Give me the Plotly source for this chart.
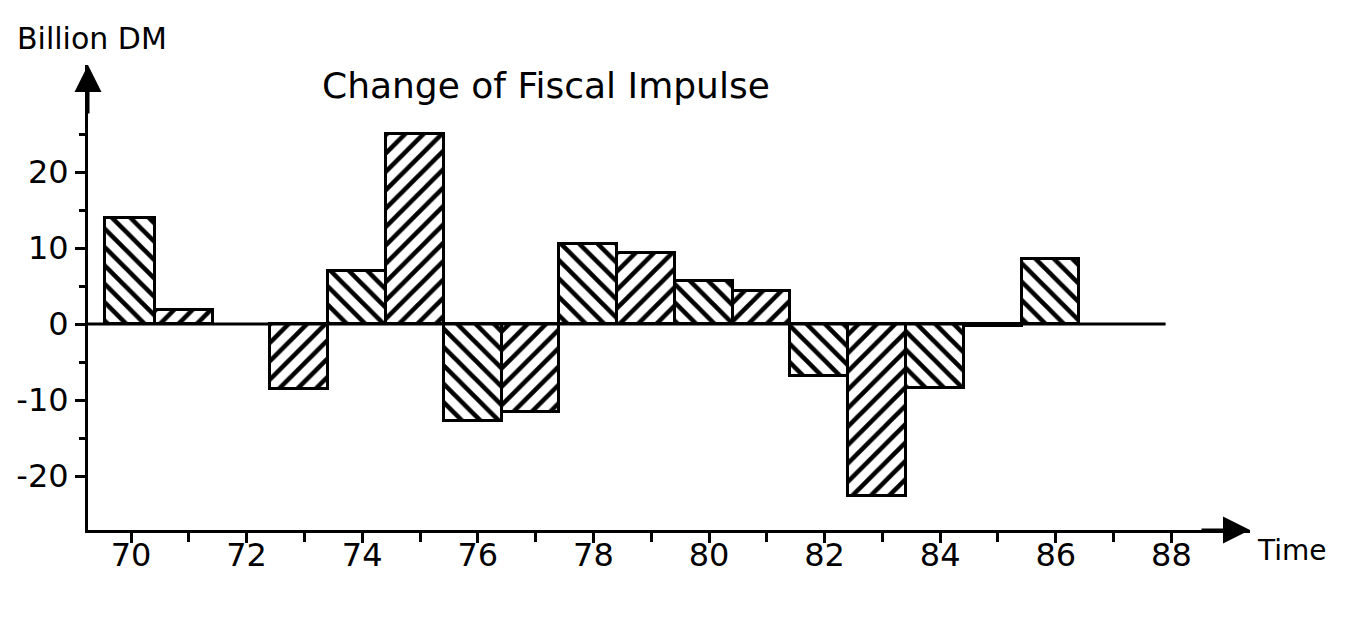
import plotly.graph_objects as go

years = [70, 71, 73, 74, 75, 76, 77, 78, 79, 80, 81, 82, 83, 84, 85, 86]
values = [14.0, 1.8, -8.5, 7.0, 25.0, -12.8, -11.6, 10.5, 9.4, 5.7, 4.4, -6.9, -22.6, -8.4, -0.3, 8.6]
x_major_ticks = [70, 72, 74, 76, 78, 80, 82, 84, 86, 88]
x_minor_ticks = [71, 73, 75, 77, 79, 81, 83, 85, 87]
y_major_ticks = [-20, -10, 0, 10, 20]
y_minor_ticks = [-15, -5, 5, 15, 25]

title_text = "Change of Fiscal Impulse"
y_label = "Billion DM"
x_label = "Time"

FONT = "DejaVu Sans, Liberation Sans, sans-serif"

shapes_pat = ["\\" if y % 2 == 0 else "/" for y in years]
widths = [0.87 if i == 0 else 1.0 for i in range(len(years))]
offsets = [-0.45 if i == 0 else -0.59 for i in range(len(years))]

fig = go.Figure()
fig.add_trace(go.Bar(
    x=years, y=values, width=widths, offset=offsets,
    marker=dict(
        color="white",
        line=dict(color="black", width=3),
        pattern=dict(shape=shapes_pat, fgcolor="black", bgcolor="white",
                     fgopacity=1, size=13, solidity=0.35, fillmode="replace"),
    ),
    showlegend=False,
))

x_lo, x_hi = 69.256, 89.36
y_lo, y_hi = -27.1, 34.08

fig.add_shape(type="line", x0=x_lo, x1=87.9, y0=0, y1=0,
              line=dict(color="black", width=3), layer="above")

fig.update_layout(
    width=1355, height=618,
    margin=dict(l=80, r=113, t=57, b=96),
    paper_bgcolor="white", plot_bgcolor="white",
    font=dict(family=FONT, color="black", size=30),
    bargap=0,
    xaxis=dict(range=[x_lo, x_hi], showgrid=False, zeroline=False,
               automargin=False,
               showline=True, linecolor="black", linewidth=3,
               tickvals=x_major_ticks, ticktext=[str(v) for v in x_major_ticks],
               ticks="outside", ticklen=10, tickwidth=2.5, tickcolor="black",
               tickfont=dict(size=32), ticklabelstandoff=-15,
               minor=dict(tickvals=x_minor_ticks, ticks="outside", ticklen=9,
                          tickwidth=2.5, tickcolor="black", showgrid=False)),
    yaxis=dict(range=[y_lo, y_hi], showgrid=False, zeroline=False,
               automargin=False,
               showline=True, linecolor="black", linewidth=3,
               tickvals=y_major_ticks, ticktext=[str(v) for v in y_major_ticks],
               ticks="outside", ticklen=10, tickwidth=2.5, tickcolor="black",
               tickfont=dict(size=32), ticklabelstandoff=0,
               minor=dict(tickvals=y_minor_ticks, ticks="outside", ticklen=6,
                          tickwidth=2.5, tickcolor="black", showgrid=False)),
    annotations=[
        dict(xref="paper", yref="paper", x=0, y=1, ax=0, ay=50,
             showarrow=True, arrowhead=2, arrowsize=1.8, arrowwidth=3,
             arrowcolor="black", text=""),
        dict(xref="paper", yref="paper", x=1, y=0, ax=-50, ay=0,
             showarrow=True, arrowhead=2, arrowsize=1.8, arrowwidth=3,
             arrowcolor="black", text=""),
        dict(xref="paper", yref="paper", x=-0.0628, y=1.0, yshift=27,
             xanchor="left", yanchor="middle", showarrow=False,
             text=y_label, font=dict(size=30)),
        dict(xref="paper", yref="paper", x=0.1997, y=1.0, yshift=-20,
             xanchor="left", yanchor="middle", showarrow=False,
             text=title_text, font=dict(size=36)),
        dict(xref="paper", yref="paper", x=1.0, y=0, xshift=5, yshift=-20,
             xanchor="left", yanchor="middle", showarrow=False,
             text=x_label, font=dict(size=28)),
    ],
)

fig.write_html("out.html")
